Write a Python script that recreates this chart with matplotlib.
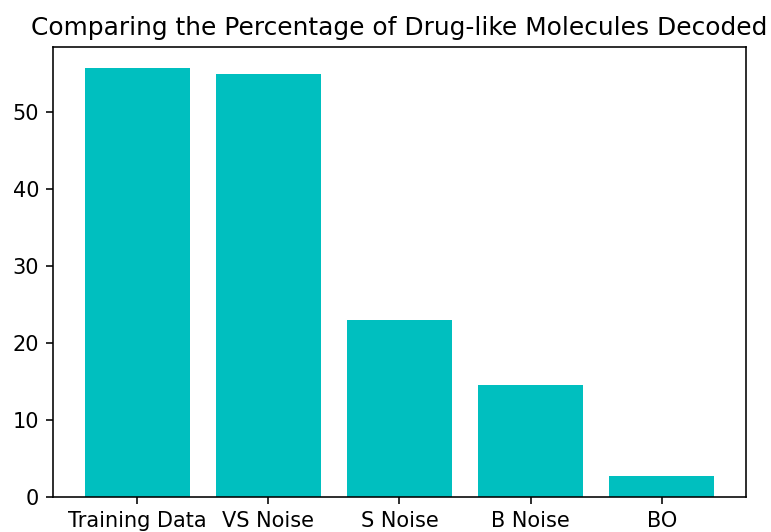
import matplotlib
matplotlib.use("Agg")
import matplotlib.pyplot as plt

categories = ["Training Data", "VS Noise", "S Noise", "B Noise", "BO"]
values = [55.6, 54.9, 22.9, 14.5, 2.7]

fig = plt.figure(figsize=(771/144, 532/144), dpi=144)
ax = fig.add_axes([53/771, 35/532, (746-53)/771, (497-47)/532])
ax.bar(categories, values, color="c", width=0.8)
ax.tick_params(labelsize=10.45)
ax.set_title("Comparing the Percentage of Drug-like Molecules Decoded", fontsize=12.45)
fig.savefig("out.png", dpi=144)
